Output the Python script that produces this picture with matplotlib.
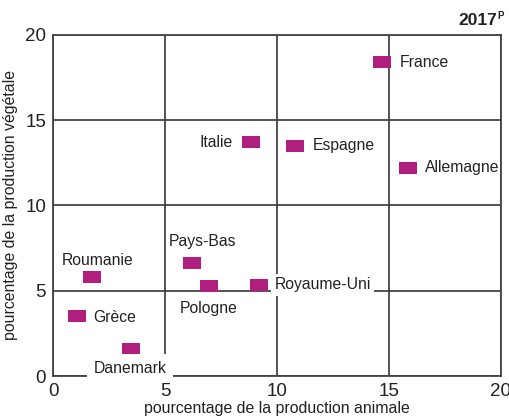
import matplotlib.pyplot as plt

plt.rcParams['font.family'] = ['Liberation Sans', 'DejaVu Sans']

# donnees
pays = ['France', 'Italie', 'Espagne', 'Allemagne', 'Roumanie', 'Grèce',
        'Danemark', 'Pays-Bas', 'Pologne', 'Royaume-Uni']
animale = [14.7, 8.85, 10.8, 15.85, 1.75, 1.05, 3.5, 6.2, 6.95, 9.2]
vegetale = [18.4, 13.7, 13.5, 12.2, 5.8, 3.5, 1.6, 6.6, 5.25, 5.35]
ticks = [0, 5, 10, 15, 20]

# placement des etiquettes (decalage en points, alignement, marge du fond)
placement = {
    'France': ((13, 0), 'left', 0.12),
    'Italie': ((-13, 0), 'right', 0.12),
    'Espagne': ((13, 0), 'left', 0.12),
    'Allemagne': ((12, 0), 'left', 0.05),
    'Roumanie': ((4, 12), 'center', 0.12),
    'Grèce': ((12, -1), 'left', 0.12),
    'Danemark': ((-1, -14), 'center', 0.4),
    'Pays-Bas': ((8, 16), 'center', 0.08),
    'Pologne': ((0, -16), 'center', 0.12),
    'Royaume-Uni': ((11, 0), 'left', 0.22),
}

couleur = '#b01f7e'
gris = '#444444'
rect = [(-1, -0.68), (1, -0.68), (1, 0.68), (-1, 0.68), (-1, -0.68)]

fig = plt.figure(figsize=(5.1, 4.19), dpi=100)
ax = fig.add_axes([0.104, 0.1026, 0.878, 0.8139])

ax.scatter(animale, vegetale, marker=rect, s=160, color=couleur, zorder=3,
           linewidths=0)

for nom, x, y in zip(pays, animale, vegetale):
    off, ha, pad = placement[nom]
    ax.annotate(nom, (x, y), xytext=off, textcoords='offset points',
                ha=ha, va='center', fontsize=11.3, color='#222222', zorder=4,
                annotation_clip=False,
                bbox=dict(boxstyle=f'square,pad={pad}', fc='white', ec='none'))

ax.set_xlim(0, 20)
ax.set_ylim(0, 20)
ax.set_xticks(ticks)
ax.set_yticks(ticks)
ax.grid(True, color=gris, linewidth=1.3)
ax.set_axisbelow(True)
for s in ax.spines.values():
    s.set_color(gris)
    s.set_linewidth(1.3)
    s.set_zorder(2)
ax.tick_params(length=0, labelsize=13.5, colors='#222222', pad=5)

ax.set_xlabel('pourcentage de la production animale', fontsize=11.4,
              color='#222222', labelpad=1)
ax.set_ylabel('pourcentage de la production végétale', fontsize=11.4,
              color='#222222', labelpad=5)

fig.text(0.974, 0.952, '2017', ha='right', va='center', fontsize=12.5,
         fontweight='bold', color='#222222')
fig.text(0.975, 0.963, 'P', ha='left', va='center', fontsize=7,
         fontweight='bold', color='#222222')

fig.savefig('out.png', dpi=100)
